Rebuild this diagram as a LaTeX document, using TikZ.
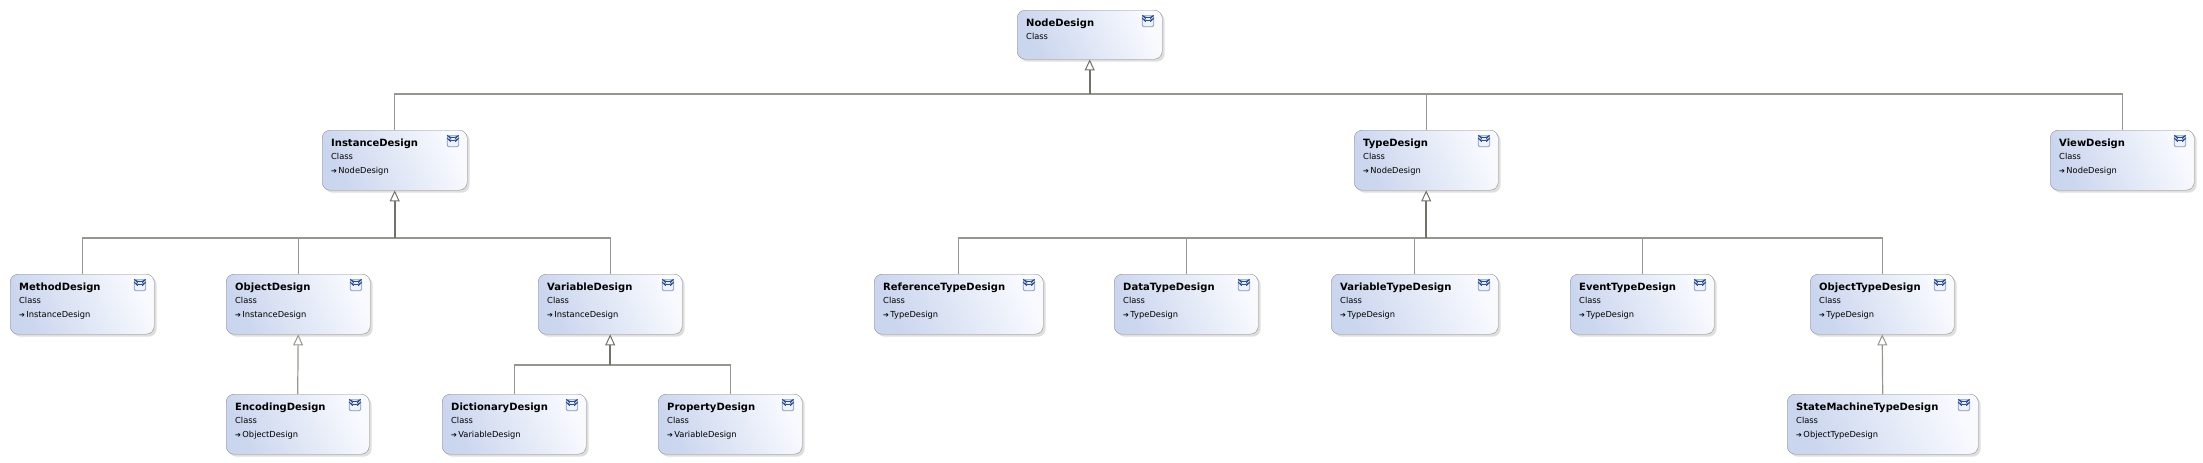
\documentclass[tikz,border=0pt]{standalone}
\usepackage{fontspec}
\setmainfont{DejaVu Sans}
\usetikzlibrary{arrows.meta,shadows}

\definecolor{boxline}{HTML}{8C8C8C}
\definecolor{boxleft}{HTML}{CAD5EE}
\definecolor{boxright}{HTML}{F8FAFE}
\definecolor{wire}{HTML}{96968E}
\definecolor{trunk}{HTML}{727269}
\definecolor{iconline}{HTML}{7F98C2}
\definecolor{iconfill}{HTML}{EEF2FA}
\definecolor{iconarr}{HTML}{2A4A8C}

\newcommand\ttl[1]{{\fontsize{10}{13.5}\selectfont\bfseries #1}}
\newcommand\inh{{\fontsize{7}{13.5}\selectfont ➔}\,}

\tikzset{
  cls/.style={draw=boxline, rounded corners=8pt, anchor=north west,
    top color=boxleft, bottom color=boxright, shading angle=115,
    drop shadow={shadow xshift=2.5pt, shadow yshift=-2.5pt, opacity=0.25},
    inner xsep=9pt, inner ysep=0pt, align=left, text width=#1,
    text height=16pt, text depth=44pt,
    font=\fontsize{8.3}{13.5}\selectfont,
    path picture={
      \coordinate (ic) at ([shift={(-20pt,-5.5pt)}]path picture bounding box.north east);
      \draw[draw=iconline, fill=iconfill, line width=0.8pt, rounded corners=2pt] (ic) rectangle ++(11.5pt,-11pt);
      \draw[iconarr, line width=0.9pt] ([shift={(3.5pt,-3pt)}]ic) -- ++(2.25pt,-2.2pt) -- ++(2.25pt,2.2pt);
      \draw[iconarr, line width=0.9pt] ([shift={(3.5pt,-6pt)}]ic) -- ++(2.25pt,-2.2pt) -- ++(2.25pt,2.2pt);
    }},
  cls/.default=126pt,
  link/.style={draw=wire, line width=1.2pt},
  tip/.style={-{Triangle[open, width=10pt, length=11pt, line width=1pt, fill=white]}},
  isa/.style={draw=trunk, line width=1.7pt, tip}
}

\begin{document}
\begin{tikzpicture}[x=1pt,y=-1pt]
\useasboundingbox (0,0) rectangle (2203,463);

% top
\node[cls=127pt, text depth=33pt] (node) at (1017,10) {\ttl{NodeDesign}\\Class};

% second row
\node[cls=127pt] (inst) at (322,130) {\ttl{InstanceDesign}\\Class\\\inh NodeDesign};
\node[cls] (type) at (1354,130) {\ttl{TypeDesign}\\Class\\\inh NodeDesign};
\node[cls] (view) at (2050,130) {\ttl{ViewDesign}\\Class\\\inh NodeDesign};

% third row
\node[cls] (meth) at (10,274) {\ttl{MethodDesign}\\Class\\\inh InstanceDesign};
\node[cls] (obj) at (226,274) {\ttl{ObjectDesign}\\Class\\\inh InstanceDesign};
\node[cls] (var) at (538,274) {\ttl{VariableDesign}\\Class\\\inh InstanceDesign};
\node[cls=151pt] (reft) at (874,274) {\ttl{ReferenceTypeDesign}\\Class\\\inh TypeDesign};
\node[cls] (datat) at (1114,274) {\ttl{DataTypeDesign}\\Class\\\inh TypeDesign};
\node[cls=149pt] (vart) at (1331,274) {\ttl{VariableTypeDesign}\\Class\\\inh TypeDesign};
\node[cls] (evt) at (1570,274) {\ttl{EventTypeDesign}\\Class\\\inh TypeDesign};
\node[cls] (objt) at (1810,274) {\ttl{ObjectTypeDesign}\\Class\\\inh TypeDesign};

% fourth row
\node[cls=125pt] (enc) at (226,394) {\ttl{EncodingDesign}\\Class\\\inh ObjectDesign};
\node[cls] (dict) at (442,394) {\ttl{DictionaryDesign}\\Class\\\inh VariableDesign};
\node[cls] (prop) at (658,394) {\ttl{PropertyDesign}\\Class\\\inh VariableDesign};
\node[cls=173pt] (smt) at (1787,394) {\ttl{StateMachineTypeDesign}\\Class\\\inh ObjectTypeDesign};

% inheritance
\coordinate (j0) at (node.south |- 0,94);
\draw[link] (inst.north) |- (j0) -| (view.north);
\draw[link] (type.north) -- (type.north |- j0);
\draw[isa] (j0) -- (node.south);

\coordinate (j1) at (inst.south |- 0,238);
\draw[link] (meth.north) |- (j1) -| (var.north);
\draw[link] (obj.north) -- (obj.north |- j1);
\draw[isa] (j1) -- (inst.south);

\coordinate (j2) at (type.south |- 0,238);
\draw[link] (reft.north) |- (j2) -| (objt.north);
\foreach \c in {datat,vart,evt}
  \draw[link] (\c.north) -- (\c.north |- j2);
\draw[isa] (j2) -- (type.south);

\coordinate (j3) at (var.south |- 0,365);
\draw[link] (dict.north) |- (j3) -| (prop.north);
\draw[isa] (j3) -- (var.south);

\draw[link, tip] (enc.north) -- (obj.south);
\draw[link, tip] (smt.north) -- (objt.south);
\end{tikzpicture}
\end{document}
